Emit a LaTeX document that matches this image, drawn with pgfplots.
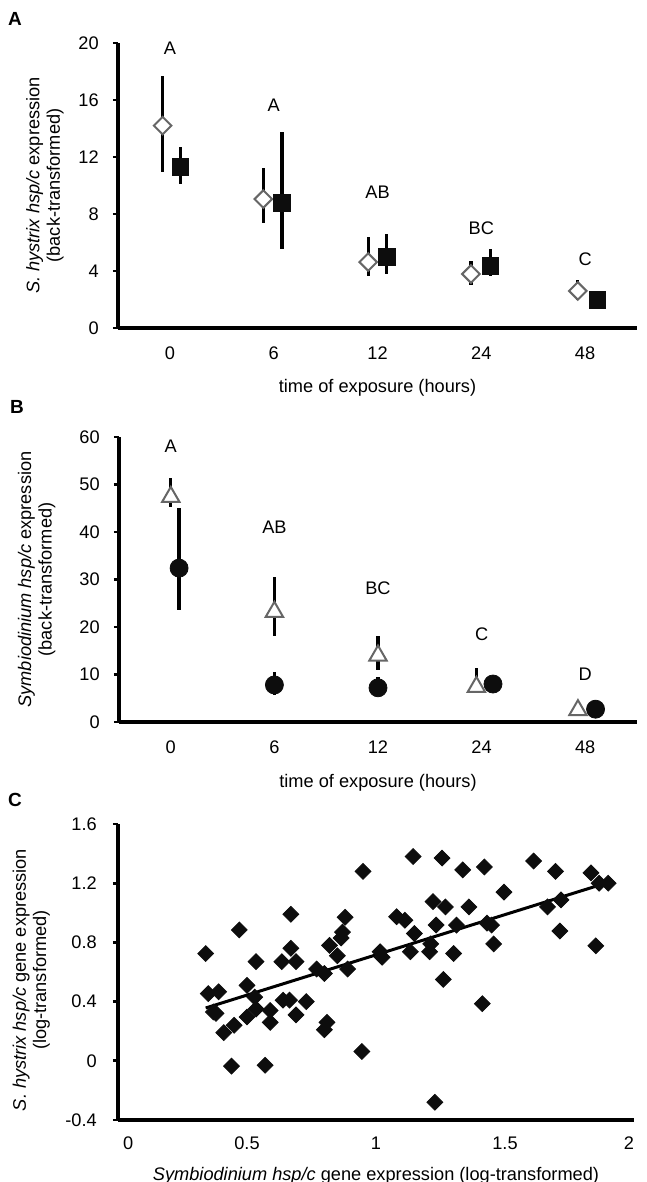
\documentclass[border=0pt]{standalone}
\usepackage{fontspec}
\setmainfont{Liberation Sans}
\usepackage{pgfplots}
\pgfplotsset{compat=1.18}
\newcommand\fsz{\fontsize{9.1}{10.2}\selectfont}

\begin{document}
\begin{tikzpicture}
\pgfplotsset{
  panel/.style={
    scale only axis, anchor=south west, clip=false,
    axis x line*=bottom, axis y line*=left,
    axis line style={-, line width=1.6pt},
    tick align=outside, major tick length=2.6pt,
    ytick style={line width=1.4pt, black},
    xtick style={draw=none},
    tick label style={font=\fsz},
    label style={font=\fsz},
  },
  cat/.style={
    xmin=-0.5, xmax=4.5, xtick={0,1,2,3,4}, xticklabels={0,6,12,24,48},
    xlabel={time of exposure (hours)},
    xticklabel style={anchor=center, yshift=-10pt},
    yticklabel style={xshift=-3.5pt},
  },
  ebar/.style={
    error bars/.cd, y dir=both, y explicit, error mark=none,
    error bar style={line width=1.6pt, black},
  },
}

% ---- A
\begin{axis}[panel, cat,
  at={(59pt,-164pt)}, width=259.5pt, height=142.5pt,
  ymin=0, ymax=20, ytick={0,4,8,12,16,20}, yticklabels={0,4,8,12,16,20},
  xlabel style={at={(axis description cs:0.5,-0.2105)}, anchor=center},
  ylabel={\textit{S. hystrix hsp/c} expression\\(back-transformed)},
  ylabel style={align=center, at={(axis description cs:-0.1407,0.5)}, anchor=center},
]
\addplot[only marks, mark=square*, mark size=3.1pt,
  mark options={rotate=45, fill=white, draw=black!60, line width=1pt}, ebar]
  table[x=x, y=y, y error plus=ep, y error minus=em] {
x     y     ep    em
-0.07 14.2  3.5   3.25
0.90  9.05  2.15  1.68
1.91  4.63  1.76  0.98
2.90  3.79  0.91  0.79
3.93  2.6   0.77  0.64
};
\addplot[only marks, mark=square*, mark size=4.1pt,
  mark options={fill=black!95, draw=black!95}, ebar]
  table[x=x, y=y, y error plus=ep, y error minus=em] {
x     y     ep    em
0.10  11.3  1.4   1.2
1.08  8.77  4.98  3.23
2.09  4.98  1.62  1.18
3.09  4.35  1.19  0.70
4.12  1.96  0.2   0.2
};
\node[font=\fsz] at (axis cs:0,19.6) {A};
\node[font=\fsz] at (axis cs:1,15.6) {A};
\node[font=\fsz] at (axis cs:2,9.5) {AB};
\node[font=\fsz] at (axis cs:3,7.0) {BC};
\node[font=\fsz] at (axis cs:4,4.8) {C};
\end{axis}

% ---- B
\begin{axis}[panel, cat,
  at={(59.5pt,-361pt)}, width=259pt, height=142.5pt,
  ymin=0, ymax=60, ytick={0,10,20,30,40,50,60}, yticklabels={0,10,20,30,40,50,60},
  xlabel style={at={(axis description cs:0.5,-0.214)}, anchor=center},
  ylabel={\textit{Symbiodinium hsp/c} expression\\(back-transformed)},
  ylabel style={align=center, at={(axis description cs:-0.159,0.5)}, anchor=center},
]
\addplot[only marks, mark=triangle*, mark size=5pt,
  mark options={fill=white, draw=black!60, line width=1pt}, ebar]
  table[x=x, y=y, y error plus=ep, y error minus=em] {
x     y     ep    em
0.00  47.4  4.0   2.1
1.00  23.2  7.3   5.1
2.00  14.0  4.1   3.0
2.95  7.4   3.9   0.5
3.93  2.5   0.3   0.3
};
\addplot[only marks, mark=*, mark size=4.5pt,
  mark options={fill=black!95, draw=black!95}, ebar]
  table[x=x, y=y, y error plus=ep, y error minus=em] {
x     y     ep    em
0.08  32.4  12.6  8.8
1.00  7.8   2.7   2.1
2.00  7.2   2.3   1.5
3.11  8.0   0.5   0.5
4.10  2.7   0.3   0.3
};
\node[font=\fsz] at (axis cs:0,58) {A};
\node[font=\fsz] at (axis cs:1,41) {AB};
\node[font=\fsz] at (axis cs:2,28.2) {BC};
\node[font=\fsz] at (axis cs:3,18.5) {C};
\node[font=\fsz] at (axis cs:4,10.1) {D};
\end{axis}

% ---- C
\begin{axis}[panel,
  at={(59pt,-560pt)}, width=258pt, height=148pt,
  xmin=0, xmax=2, xtick={0,0.5,1,1.5,2},
  xticklabels={\hphantom{00}0,0.5,1,1.5,2\hphantom{0}},
  xticklabel style={anchor=center, yshift=-9pt},
  ymin=-0.4, ymax=1.6, ytick={-0.4,0,0.4,0.8,1.2,1.6},
  yticklabels={-0.4,0,0.4,0.8,1.2,1.6},
  yticklabel style={xshift=-4.5pt},
  xlabel={\textit{Symbiodinium hsp/c} gene expression (log-transformed)},
  xlabel style={at={(axis description cs:0.5,-0.189)}, anchor=center},
  ylabel={\textit{S. hystrix hsp/c} gene expression\\(log-transformed)},
  ylabel style={align=center, at={(axis description cs:-0.168,0.473)}, anchor=center},
]
\addplot[only marks, mark=square*, mark size=2.8pt,
  mark options={rotate=45, fill=black!95, draw=black!95}]
  table {
0.34  0.725
0.35  0.454
0.39  0.466
0.37  0.33
0.38  0.32
0.41  0.19
0.45  0.24
0.44  -0.036
0.47  0.884
0.50  0.51
0.50  0.296
0.53  0.43
0.535 0.35
0.535 0.67
0.57  -0.03
0.59  0.34
0.59  0.26
0.635 0.67
0.64  0.41
0.665 0.41
0.67  0.76
0.67  0.99
0.69  0.67
0.69  0.31
0.73  0.40
0.77  0.62
0.80  0.59
0.81  0.26
0.80  0.21
0.82  0.78
0.85  0.71
0.865 0.83
0.87  0.87
0.88  0.97
0.89  0.62
0.95  1.28
0.945 0.063
1.016 0.737
1.024 0.70
1.08  0.974
1.112 0.95
1.133 0.737
1.149 0.86
1.144 1.38
1.208 0.737
1.212 0.79
1.221 1.076
1.233 0.917
1.228 -0.28
1.256 1.37
1.261 0.55
1.269 1.04
1.301 0.725
1.312 0.917
1.336 1.29
1.36  1.04
1.412 0.386
1.42  1.31
1.43  0.93
1.448 0.917
1.456 0.79
1.496 1.14
1.611 1.35
1.665 1.04
1.696 1.28
1.717 1.087
1.713 0.877
1.833 1.27
1.852 0.777
1.865 1.20
1.90  1.20
};
\addplot[no marks, line width=1.5pt] coordinates {(0.34,0.357) (1.89,1.20)};
\end{axis}

\node[font=\bfseries\fontsize{9.5}{10}\selectfont] at (7.5pt,-9.5pt) {A};
\node[font=\bfseries\fontsize{9.5}{10}\selectfont] at (8.5pt,-203.5pt) {B};
\node[font=\bfseries\fontsize{9.5}{10}\selectfont] at (7.5pt,-400pt) {C};

\pgfresetboundingbox
\path[use as bounding box] (0,0) rectangle (323.5pt,-591pt);
\end{tikzpicture}
\end{document}
